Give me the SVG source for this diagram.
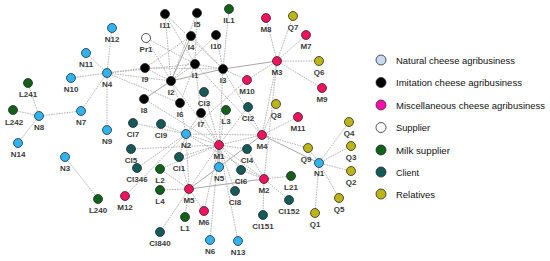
<svg xmlns="http://www.w3.org/2000/svg" width="550" height="261" viewBox="0 0 550 261">
<style>
.e{stroke:#b4b4b4;stroke-width:1;stroke-dasharray:1.6 1;fill:none}
.s{stroke:#a8a8a8;stroke-width:1;fill:none}
circle{stroke:#2a2a2a;stroke-width:0.8}
.n{fill:#2fb4f0}.i{fill:#000}.m{fill:#f0125e}.p{fill:#fff}.l{fill:#11611a}.c{fill:#145a58}.q{fill:#bbb517}
.nl{fill:#c8daf0}.ml{fill:#ff10a8}
text.t{font-family:"Liberation Sans",Arial,sans-serif;font-size:8px;font-weight:bold;fill:#3a3a3a;text-anchor:middle}
text.lg{font-family:"Liberation Sans",Arial,sans-serif;font-size:9.5px;fill:#111}
</style>
<rect width="550" height="261" fill="#fff"/>
<g id="connectors">
<line class="e" x1="107" y1="73" x2="112" y2="28"/>
<line class="e" x1="107" y1="73" x2="86" y2="53"/>
<line class="e" x1="107" y1="73" x2="71" y2="78"/>
<line class="e" x1="107" y1="73" x2="81" y2="111"/>
<line class="e" x1="107" y1="73" x2="107" y2="130"/>
<line class="e" x1="107" y1="73" x2="145" y2="68"/>
<line class="e" x1="107" y1="73" x2="171" y2="81"/>
<line class="e" x1="107" y1="73" x2="195" y2="64"/>
<line class="e" x1="107" y1="73" x2="180" y2="103"/>
<line class="e" x1="81" y1="111" x2="39" y2="116"/>
<line class="e" x1="39" y1="116" x2="28" y2="83"/>
<line class="e" x1="39" y1="116" x2="13" y2="110"/>
<line class="e" x1="39" y1="116" x2="18" y2="143"/>
<line class="e" x1="65" y1="157" x2="98" y2="199"/>
<line class="e" x1="165" y1="14" x2="171" y2="81"/>
<line class="e" x1="165" y1="14" x2="195" y2="64"/>
<line class="e" x1="165" y1="14" x2="223" y2="69"/>
<line class="e" x1="197" y1="13" x2="195" y2="64"/>
<line class="e" x1="197" y1="13" x2="171" y2="81"/>
<line class="s" x1="191" y1="36" x2="171" y2="81"/>
<line class="e" x1="191" y1="36" x2="223" y2="69"/>
<line class="e" x1="191" y1="36" x2="145" y2="68"/>
<line class="e" x1="216" y1="35" x2="171" y2="81"/>
<line class="e" x1="216" y1="35" x2="223" y2="69"/>
<line class="e" x1="146" y1="38" x2="171" y2="81"/>
<line class="e" x1="146" y1="38" x2="195" y2="64"/>
<line class="e" x1="145" y1="68" x2="223" y2="69"/>
<line class="e" x1="145" y1="68" x2="171" y2="81"/>
<line class="s" x1="144" y1="99" x2="171" y2="81"/>
<line class="e" x1="171" y1="81" x2="195" y2="64"/>
<line class="s" x1="171" y1="81" x2="223" y2="69"/>
<line class="e" x1="171" y1="81" x2="180" y2="103"/>
<line class="e" x1="195" y1="64" x2="223" y2="69"/>
<line class="e" x1="195" y1="64" x2="201" y2="113"/>
<line class="e" x1="195" y1="64" x2="180" y2="103"/>
<line class="e" x1="229" y1="9" x2="223" y2="69"/>
<line class="s" x1="223" y1="69" x2="277" y2="61"/>
<line class="e" x1="223" y1="69" x2="247" y2="80"/>
<line class="e" x1="223" y1="69" x2="262" y2="135"/>
<line class="e" x1="223" y1="69" x2="219" y2="145"/>
<line class="e" x1="171" y1="81" x2="219" y2="145"/>
<line class="e" x1="180" y1="103" x2="186" y2="134"/>
<line class="e" x1="201" y1="113" x2="186" y2="134"/>
<line class="e" x1="201" y1="113" x2="219" y2="145"/>
<line class="e" x1="144" y1="99" x2="219" y2="145"/>
<line class="e" x1="195" y1="64" x2="262" y2="135"/>
<line class="e" x1="247" y1="80" x2="277" y2="61"/>
<line class="e" x1="247" y1="80" x2="186" y2="134"/>
<line class="e" x1="277" y1="61" x2="266" y2="18"/>
<line class="e" x1="277" y1="61" x2="293" y2="16"/>
<line class="e" x1="277" y1="61" x2="306" y2="35"/>
<line class="e" x1="277" y1="61" x2="319" y2="61"/>
<line class="e" x1="277" y1="61" x2="322" y2="88"/>
<line class="e" x1="277" y1="61" x2="262" y2="135"/>
<line class="e" x1="277" y1="61" x2="264" y2="179"/>
<line class="e" x1="262" y1="135" x2="276" y2="104"/>
<line class="e" x1="262" y1="135" x2="298" y2="117"/>
<line class="e" x1="262" y1="135" x2="219" y2="145"/>
<line class="e" x1="262" y1="135" x2="186" y2="134"/>
<line class="s" x1="262" y1="135" x2="219" y2="167"/>
<line class="e" x1="262" y1="135" x2="308" y2="148"/>
<line class="s" x1="262" y1="135" x2="319" y2="163"/>
<line class="e" x1="319" y1="163" x2="308" y2="148"/>
<line class="e" x1="319" y1="163" x2="349" y2="122"/>
<line class="e" x1="319" y1="163" x2="351" y2="146"/>
<line class="e" x1="319" y1="163" x2="351" y2="171"/>
<line class="e" x1="319" y1="163" x2="339" y2="198"/>
<line class="e" x1="319" y1="163" x2="315" y2="213"/>
<line class="e" x1="219" y1="145" x2="186" y2="134"/>
<line class="e" x1="219" y1="145" x2="248" y2="107"/>
<line class="e" x1="219" y1="145" x2="226" y2="110"/>
<line class="e" x1="219" y1="145" x2="204" y2="92"/>
<line class="s" x1="219" y1="145" x2="219" y2="167"/>
<line class="e" x1="219" y1="145" x2="264" y2="179"/>
<line class="e" x1="219" y1="145" x2="189" y2="189"/>
<line class="e" x1="219" y1="145" x2="131" y2="149"/>
<line class="e" x1="219" y1="145" x2="160" y2="169"/>
<line class="e" x1="219" y1="145" x2="247" y2="149"/>
<line class="e" x1="219" y1="145" x2="241" y2="170"/>
<line class="e" x1="219" y1="145" x2="235" y2="191"/>
<line class="e" x1="219" y1="145" x2="210" y2="240"/>
<line class="e" x1="219" y1="145" x2="238" y2="241"/>
<line class="e" x1="219" y1="145" x2="204" y2="211"/>
<line class="e" x1="219" y1="145" x2="179" y2="157"/>
<line class="e" x1="186" y1="134" x2="133" y2="123"/>
<line class="e" x1="186" y1="134" x2="161" y2="124"/>
<line class="e" x1="186" y1="134" x2="137" y2="168"/>
<line class="e" x1="186" y1="134" x2="125" y2="196"/>
<line class="e" x1="186" y1="134" x2="179" y2="157"/>
<line class="e" x1="186" y1="134" x2="189" y2="189"/>
<line class="e" x1="186" y1="134" x2="264" y2="179"/>
<line class="e" x1="189" y1="189" x2="160" y2="190"/>
<line class="e" x1="189" y1="189" x2="160" y2="169"/>
<line class="e" x1="189" y1="189" x2="160" y2="232"/>
<line class="e" x1="189" y1="189" x2="185" y2="217"/>
<line class="e" x1="189" y1="189" x2="204" y2="211"/>
<line class="s" x1="189" y1="189" x2="264" y2="179"/>
<line class="s" x1="189" y1="189" x2="219" y2="167"/>
<line class="e" x1="189" y1="189" x2="179" y2="157"/>
<line class="e" x1="264" y1="179" x2="291" y2="176"/>
<line class="e" x1="264" y1="179" x2="289" y2="200"/>
<line class="e" x1="264" y1="179" x2="263" y2="215"/>
<line class="e" x1="264" y1="179" x2="241" y2="170"/>
<line class="e" x1="264" y1="179" x2="247" y2="149"/>
</g>
<g id="node-N12"><circle class="n" cx="112" cy="28" r="4.5"/><text class="t" x="112" y="42">N12</text></g>
<g id="node-N11"><circle class="n" cx="86" cy="53" r="4.5"/><text class="t" x="86" y="67">N11</text></g>
<g id="node-N10"><circle class="n" cx="71" cy="78" r="4.5"/><text class="t" x="71" y="92">N10</text></g>
<g id="node-N4"><circle class="n" cx="107" cy="73" r="4.5"/><text class="t" x="107" y="87">N4</text></g>
<g id="node-N7"><circle class="n" cx="81" cy="111" r="4.5"/><text class="t" x="81" y="125">N7</text></g>
<g id="node-N8"><circle class="n" cx="39" cy="116" r="4.5"/><text class="t" x="39" y="130">N8</text></g>
<g id="node-N14"><circle class="n" cx="18" cy="143" r="4.5"/><text class="t" x="18" y="157">N14</text></g>
<g id="node-N9"><circle class="n" cx="107" cy="130" r="4.5"/><text class="t" x="107" y="144">N9</text></g>
<g id="node-N3"><circle class="n" cx="65" cy="157" r="4.5"/><text class="t" x="65" y="171">N3</text></g>
<g id="node-N2"><circle class="n" cx="186" cy="134" r="4.5"/><text class="t" x="186" y="148">N2</text></g>
<g id="node-N5"><circle class="n" cx="219" cy="167" r="4.5"/><text class="t" x="219" y="181">N5</text></g>
<g id="node-N6"><circle class="n" cx="210" cy="240" r="4.5"/><text class="t" x="210" y="254">N6</text></g>
<g id="node-N13"><circle class="n" cx="238" cy="241" r="4.5"/><text class="t" x="238" y="255">N13</text></g>
<g id="node-N1"><circle class="n" cx="319" cy="163" r="4.5"/><text class="t" x="319" y="176">N1</text></g>
<g id="node-I11"><circle class="i" cx="165" cy="14" r="4.5"/><text class="t" x="165" y="28">I11</text></g>
<g id="node-I5"><circle class="i" cx="197" cy="13" r="4.5"/><text class="t" x="197" y="27">I5</text></g>
<g id="node-I4"><circle class="i" cx="191" cy="36" r="4.5"/><text class="t" x="191" y="50">I4</text></g>
<g id="node-I10"><circle class="i" cx="216" cy="35" r="4.5"/><text class="t" x="216" y="49">I10</text></g>
<g id="node-I1"><circle class="i" cx="195" cy="64" r="4.5"/><text class="t" x="195" y="78">I1</text></g>
<g id="node-I3"><circle class="i" cx="223" cy="69" r="4.5"/><text class="t" x="223" y="83">I3</text></g>
<g id="node-I2"><circle class="i" cx="171" cy="81" r="4.5"/><text class="t" x="171" y="95">I2</text></g>
<g id="node-I9"><circle class="i" cx="145" cy="68" r="4.5"/><text class="t" x="145" y="82">I9</text></g>
<g id="node-I8"><circle class="i" cx="144" cy="99" r="4.5"/><text class="t" x="144" y="113">I8</text></g>
<g id="node-I6"><circle class="i" cx="180" cy="103" r="4.5"/><text class="t" x="180" y="117">I6</text></g>
<g id="node-I7"><circle class="i" cx="201" cy="113" r="4.5"/><text class="t" x="201" y="127">I7</text></g>
<g id="node-Pr1"><circle class="p" cx="146" cy="38" r="4.5"/><text class="t" x="146" y="52">Pr1</text></g>
<g id="node-M8"><circle class="m" cx="266" cy="18" r="4.5"/><text class="t" x="266" y="32">M8</text></g>
<g id="node-M7"><circle class="m" cx="306" cy="35" r="4.5"/><text class="t" x="306" y="49">M7</text></g>
<g id="node-M3"><circle class="m" cx="277" cy="61" r="4.5"/><text class="t" x="277" y="75">M3</text></g>
<g id="node-M9"><circle class="m" cx="322" cy="88" r="4.5"/><text class="t" x="322" y="102">M9</text></g>
<g id="node-M10"><circle class="m" cx="247" cy="80" r="4.5"/><text class="t" x="247" y="94">M10</text></g>
<g id="node-M11"><circle class="m" cx="298" cy="117" r="4.5"/><text class="t" x="298" y="131">M11</text></g>
<g id="node-M4"><circle class="m" cx="262" cy="135" r="4.5"/><text class="t" x="262" y="149">M4</text></g>
<g id="node-M1"><circle class="m" cx="219" cy="145" r="4.5"/><text class="t" x="219" y="159">M1</text></g>
<g id="node-M2"><circle class="m" cx="264" cy="179" r="4.5"/><text class="t" x="264" y="193">M2</text></g>
<g id="node-M5"><circle class="m" cx="189" cy="189" r="4.5"/><text class="t" x="189" y="203">M5</text></g>
<g id="node-M6"><circle class="m" cx="204" cy="211" r="4.5"/><text class="t" x="204" y="225">M6</text></g>
<g id="node-M12"><circle class="m" cx="125" cy="196" r="4.5"/><text class="t" x="125" y="210">M12</text></g>
<g id="node-Q7"><circle class="q" cx="293" cy="16" r="4.5"/><text class="t" x="293" y="30">Q7</text></g>
<g id="node-Q6"><circle class="q" cx="319" cy="61" r="4.5"/><text class="t" x="319" y="75">Q6</text></g>
<g id="node-Q8"><circle class="q" cx="276" cy="104" r="4.5"/><text class="t" x="276" y="118">Q8</text></g>
<g id="node-Q4"><circle class="q" cx="349" cy="122" r="4.5"/><text class="t" x="349" y="136">Q4</text></g>
<g id="node-Q3"><circle class="q" cx="351" cy="146" r="4.5"/><text class="t" x="351" y="160">Q3</text></g>
<g id="node-Q2"><circle class="q" cx="351" cy="171" r="4.5"/><text class="t" x="351" y="185">Q2</text></g>
<g id="node-Q5"><circle class="q" cx="339" cy="198" r="4.5"/><text class="t" x="339" y="212">Q5</text></g>
<g id="node-Q1"><circle class="q" cx="315" cy="213" r="4.5"/><text class="t" x="315" y="227">Q1</text></g>
<g id="node-Q9"><circle class="q" cx="308" cy="148" r="4.5"/><text class="t" x="306" y="162">Q9</text></g>
<g id="node-IL1"><circle class="l" cx="229" cy="9" r="4.5"/><text class="t" x="229" y="23">IL1</text></g>
<g id="node-L3"><circle class="l" cx="226" cy="110" r="4.5"/><text class="t" x="226" y="124">L3</text></g>
<g id="node-L241"><circle class="l" cx="28" cy="83" r="4.5"/><text class="t" x="28" y="97">L241</text></g>
<g id="node-L242"><circle class="l" cx="13" cy="110" r="4.5"/><text class="t" x="14" y="125">L242</text></g>
<g id="node-L240"><circle class="l" cx="98" cy="199" r="4.5"/><text class="t" x="98" y="213">L240</text></g>
<g id="node-L2"><circle class="l" cx="160" cy="169" r="4.5"/><text class="t" x="160" y="183">L2</text></g>
<g id="node-L4"><circle class="l" cx="160" cy="190" r="4.5"/><text class="t" x="160" y="204">L4</text></g>
<g id="node-L1"><circle class="l" cx="185" cy="217" r="4.5"/><text class="t" x="185" y="231">L1</text></g>
<g id="node-L21"><circle class="l" cx="291" cy="176" r="4.5"/><text class="t" x="291" y="190">L21</text></g>
<g id="node-Cl3"><circle class="c" cx="204" cy="92" r="4.5"/><text class="t" x="204" y="106">Cl3</text></g>
<g id="node-Cl2"><circle class="c" cx="248" cy="107" r="4.5"/><text class="t" x="248" y="121">Cl2</text></g>
<g id="node-Cl7"><circle class="c" cx="133" cy="123" r="4.5"/><text class="t" x="133" y="137">Cl7</text></g>
<g id="node-Cl9"><circle class="c" cx="161" cy="124" r="4.5"/><text class="t" x="161" y="138">Cl9</text></g>
<g id="node-Cl5"><circle class="c" cx="131" cy="149" r="4.5"/><text class="t" x="131" y="163">Cl5</text></g>
<g id="node-Cl346"><circle class="c" cx="137" cy="168" r="4.5"/><text class="t" x="137" y="182">Cl346</text></g>
<g id="node-Cl1"><circle class="c" cx="179" cy="157" r="4.5"/><text class="t" x="179" y="171">Cl1</text></g>
<g id="node-Cl4"><circle class="c" cx="247" cy="149" r="4.5"/><text class="t" x="247" y="163">Cl4</text></g>
<g id="node-Cl6"><circle class="c" cx="241" cy="170" r="4.5"/><text class="t" x="241" y="184">Cl6</text></g>
<g id="node-Cl8"><circle class="c" cx="235" cy="191" r="4.5"/><text class="t" x="235" y="205">Cl8</text></g>
<g id="node-Cl840"><circle class="c" cx="160" cy="232" r="4.5"/><text class="t" x="160" y="246">Cl840</text></g>
<g id="node-Cl151"><circle class="c" cx="263" cy="215" r="4.5"/><text class="t" x="263" y="229">Cl151</text></g>
<g id="node-Cl152"><circle class="c" cx="289" cy="200" r="4.5"/><text class="t" x="289" y="214">Cl152</text></g>
<g id="legend">
<circle class="nl" cx="381" cy="60" r="5"/><text class="lg" x="396" y="63.5" textLength="119" lengthAdjust="spacingAndGlyphs">Natural cheese agribusiness</text>
<circle class="i" cx="381" cy="82.5" r="5"/><text class="lg" x="396" y="86" textLength="126" lengthAdjust="spacingAndGlyphs">Imitation cheese agribusiness</text>
<circle class="ml" cx="381" cy="105" r="5"/><text class="lg" x="396" y="108.5" textLength="149" lengthAdjust="spacingAndGlyphs">Miscellaneous cheese agribusiness</text>
<circle class="p" cx="381" cy="127.5" r="5"/><text class="lg" x="396" y="131" textLength="34" lengthAdjust="spacingAndGlyphs">Supplier</text>
<circle class="l" cx="381" cy="150" r="5"/><text class="lg" x="396" y="153.5" textLength="54" lengthAdjust="spacingAndGlyphs">Milk supplier</text>
<circle class="c" cx="381" cy="172" r="5"/><text class="lg" x="396" y="175.5" textLength="23" lengthAdjust="spacingAndGlyphs">Client</text>
<circle class="q" cx="381" cy="194" r="5"/><text class="lg" x="396" y="197.5" textLength="39" lengthAdjust="spacingAndGlyphs">Relatives</text>
</g>
</svg>
